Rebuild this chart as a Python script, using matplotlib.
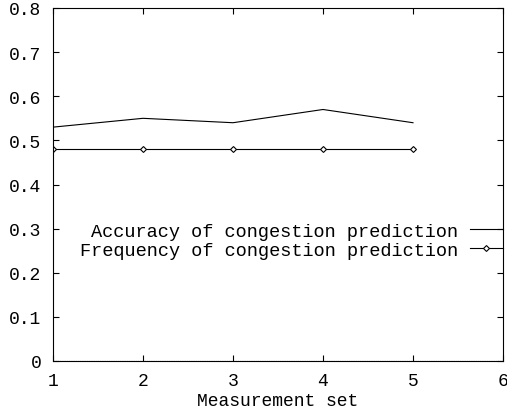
import matplotlib
matplotlib.use("Agg")
import matplotlib.pyplot as plt

# measurement sets and the two prediction series
sets = [1, 2, 3, 4, 5]
accuracy = [0.53, 0.55, 0.54, 0.57, 0.54]
frequency = [0.48, 0.48, 0.48, 0.48, 0.48]

plt.rcParams['font.family'] = ['Liberation Mono', 'DejaVu Sans Mono']
plt.rcParams['font.size'] = 13

fig = plt.figure(figsize=(5.07, 4.14), dpi=100)
ax = fig.add_axes([53 / 507, (414 - 362) / 414, 450 / 507, 353 / 414])

ax.plot(sets, accuracy, color='black', lw=0.8,
        label='Accuracy of congestion prediction')
ax.plot(sets, frequency, color='black', lw=0.8, marker='D', ms=3,
        mfc='white', mec='black', mew=0.8,
        label='Frequency of congestion prediction')

# dotted zero axis along the bottom
ax.axhline(0, color='black', lw=0.8, ls=(0, (1, 1)))

ax.set_xlim(1, 6)
ax.set_ylim(0, 0.8)
ax.set_xticks([1, 2, 3, 4, 5, 6])
ax.set_yticks([0, 0.1, 0.2, 0.3, 0.4, 0.5, 0.6, 0.7, 0.8])
ax.set_yticklabels(['0', '0.1', '0.2', '0.3', '0.4', '0.5', '0.6', '0.7', '0.8'])
ax.tick_params(direction='in', length=4, width=0.8, top=True, right=True)
ax.tick_params(axis='y', pad=8.5)
ax.tick_params(axis='x', pad=8)
for s in ax.spines.values():
    s.set_linewidth(0.8)

ax.set_xlabel('Measurement set', labelpad=2)

leg = ax.legend(loc='center right', bbox_to_anchor=(1.0, 0.341), frameon=False,
                markerfirst=False, handlelength=1.78, handletextpad=0.63,
                labelspacing=0.1, borderaxespad=0, borderpad=0, fontsize=13.4)

fig.savefig('out.png', dpi=100)
